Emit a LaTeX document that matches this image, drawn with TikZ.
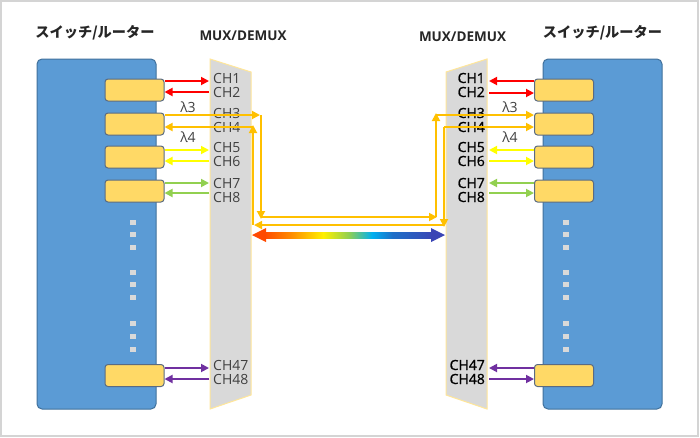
\documentclass[tikz,border=0pt]{standalone}
\usepackage{fontspec}
\setmainfont{Open Sans}
\newfontfamily\jpfont{Noto Sans CJK JP}
\newfontfamily\chbold{Open Sans}[FakeBold=1.2]
\usetikzlibrary{arrows.meta}
\definecolor{framegray}{HTML}{D4D4D4}
\definecolor{swfill}{HTML}{5B9BD5}
\definecolor{swdraw}{HTML}{41719C}
\definecolor{portfill}{HTML}{FFD966}
\definecolor{portdraw}{HTML}{5A6B82}
\definecolor{dotgray}{HTML}{D9D9D9}
\definecolor{muxfill}{HTML}{D9D9D9}
\definecolor{muxdraw}{HTML}{FFE699}
\definecolor{cred}{HTML}{FF0000}
\definecolor{corange}{HTML}{FFC000}
\definecolor{cyellow}{HTML}{FFFF00}
\definecolor{cgreen}{HTML}{92D050}
\definecolor{cpurple}{HTML}{7030A0}
\definecolor{chgray}{HTML}{404040}
\definecolor{titlegray}{HTML}{262626}
\definecolor{rbA}{HTML}{FF4A00}
\definecolor{rbB}{HTML}{FF8C00}
\definecolor{rbC}{HTML}{FFF000}
\definecolor{rbD}{HTML}{92D050}
\definecolor{rbE}{HTML}{00B0F0}
\definecolor{rbF}{HTML}{1E70C8}
\definecolor{rbG}{HTML}{3A45B5}
\pgfdeclarehorizontalshading{rainbowshade}{100bp}{color(0bp)=(rbA); color(25bp)=(rbA); color(33bp)=(rbB); color(42.5bp)=(rbC); color(50bp)=(rbD); color(57bp)=(rbE); color(63bp)=(rbF); color(75bp)=(rbG); color(100bp)=(rbG)}
\tikzset{
  switchbox/.style={draw=swdraw, fill=swfill, line width=1pt, rounded corners=5pt, minimum width=119pt, minimum height=350pt, inner sep=0pt},
  portbox/.style={draw=portdraw, fill=portfill, line width=1pt, rounded corners=3pt, minimum width=59pt, minimum height=22pt, inner sep=0pt},
  muxshape/.style={fill=muxfill, draw=muxdraw, line width=1pt},
  sig/.style={line width=1.8pt, -{Triangle[length=8pt,width=8pt]}},
  chl/.style={font=\fontsize{14}{14}\selectfont, text=chgray, inner sep=0pt, anchor=base west},
  chr/.style={font=\chbold\fontsize{14}{14}\selectfont, text=black, inner sep=0pt, anchor=base east},
  lam/.style={font=\fontsize{14}{14}\selectfont, text=chgray, inner sep=0pt, anchor=base},
  jptitle/.style={font=\jpfont\bfseries\fontsize{14.2}{14.2}\selectfont, text=titlegray, inner sep=0pt},
  muxtitle/.style={font=\bfseries\fontsize{13.5}{13.5}\selectfont, text=titlegray, inner sep=0pt},
}
\begin{document}
\begin{tikzpicture}[x=1pt,y=-1pt]
\useasboundingbox (0,0) rectangle (700,437);
\fill[white] (0,0) rectangle (700,437);
\draw[framegray, line width=1.2pt] (1,1) rectangle (698,436);

% titles
\node[jptitle] (ltitle) at (95,33) {スイッチ/ルーター};
\node[jptitle] (rtitle) at (602.5,33) {スイッチ/ルーター};
\node[muxtitle] (lmuxt) at (243,36) {MUX/DEMUX};
\node[muxtitle] (rmuxt) at (462.5,37) {MUX/DEMUX};

% switches
\node[switchbox] (lsw) at (96.5,234) {};
\node[switchbox] (rsw) at (602.5,234) {};

% ports
\foreach \n/\y in {1/90,2/124,3/157,4/191,5/375.5}{
  \node[portbox] (lp\n) at (134.5,\y) {};
  \node[portbox] (rp\n) at (564,\y) {};
}

% dots
\foreach \y in {219.5,231.5,245,269.5,281.5,295,320.5,333.5,347}{
  \fill[dotgray] (130,\y) rectangle +(6,5);
  \fill[dotgray] (563,\y) rectangle +(6,5);
}

% mux shapes
\draw[muxshape] (210,59) -- (251,72) -- (251,395) -- (210,409) -- cycle;
\draw[muxshape] (487,59) -- (446,72) -- (446,395) -- (487,409) -- cycle;

% channel labels
\foreach \t/\b in {CH1/83,CH2/97,CH3/118,CH4/132,CH5/152,CH6/166,CH7/188,CH8/202,CH47/370,CH48/384}{
  \node[chl] (l\t) at (213,\b) {\t};
  \node[chr] (r\t) at (485,\b) {\t};
}
\node[lam] (llam3) at (188,112) {λ3};
\node[lam] (llam4) at (188,142) {λ4};
\node[lam] (rlam3) at (510,112) {λ3};
\node[lam] (rlam4) at (510,142) {λ4};

% mux edges
\coordinate (lmx) at (209,0);
\coordinate (rmx) at (489,0);

% left short arrows
\draw[sig, cred] (lp1.east |- 0,81) -- (lmx |- 0,81);
\draw[sig, cred] (lmx |- 0,92) -- (lp1.east |- 0,92);
\draw[sig, cyellow] (lp3.east |- 0,150) -- (lmx |- 0,150);
\draw[sig, cyellow] (lmx |- 0,161) -- (lp3.east |- 0,161);
\draw[sig, cgreen] (lp4.east |- 0,183) -- (lmx |- 0,183);
\draw[sig, cgreen] (lmx |- 0,193) -- (lp4.east |- 0,193);
\draw[sig, cpurple] (lp5.east |- 0,368) -- (lmx |- 0,368);
\draw[sig, cpurple] (lmx |- 0,379) -- (lp5.east |- 0,379);

% right short arrows
\draw[sig, cred] (rp1.west |- 0,81) -- (rmx |- 0,81);
\draw[sig, cred] (rmx |- 0,93) -- (rp1.west |- 0,93);
\draw[sig, cyellow] (rp3.west |- 0,150) -- (rmx |- 0,150);
\draw[sig, cyellow] (rmx |- 0,161) -- (rp3.west |- 0,161);
\draw[sig, cgreen] (rp4.west |- 0,183) -- (rmx |- 0,183);
\draw[sig, cgreen] (rmx |- 0,193) -- (rp4.west |- 0,193);
\draw[sig, cpurple] (rp5.west |- 0,368) -- (rmx |- 0,368);
\draw[sig, cpurple] (rmx |- 0,379) -- (rp5.west |- 0,379);

% lambda 3 route
\coordinate (a1) at (261,115);
\coordinate (a2) at (261,217);
\coordinate (a3) at (436,217);
\coordinate (a4) at (436,115);
\draw[sig, corange] (lp2.east |- a1) -- ([xshift=-1pt]a1);
\draw[sig, corange] (a1) -- ([yshift=-2pt]a2);
\draw[sig, corange] (a2) -- ([xshift=1pt]a3);
\draw[sig, corange] (a3) -- ([yshift=2pt]a4);
\draw[sig, corange] (a4) -- (rp2.west |- a4);

% lambda 4 route
\coordinate (b1) at (253,127);
\coordinate (b2) at (253,225);
\coordinate (b3) at (444,225);
\coordinate (b4) at (444,127);
\draw[sig, corange] (b4) -- (rp2.west |- b4);
\draw[sig, corange] (b4) -- ([yshift=-2pt]b3);
\draw[sig, corange] (b3) -- ([xshift=1pt]b2);
\draw[sig, corange] (b2) -- ([yshift=2pt]b1);
\draw[sig, corange] (b1) -- (lp2.east |- b1);

% rainbow double arrow
\coordinate (rbL) at (252,235);
\coordinate (rbR) at (445,235);
\shade[shading=rainbowshade] (264,232) rectangle (433,238);
\fill[rbA] (rbL) -- (266,228) -- (266,242) -- cycle;
\fill[rbG] (rbR) -- (431,228) -- (431,242) -- cycle;
\end{tikzpicture}
\end{document}
